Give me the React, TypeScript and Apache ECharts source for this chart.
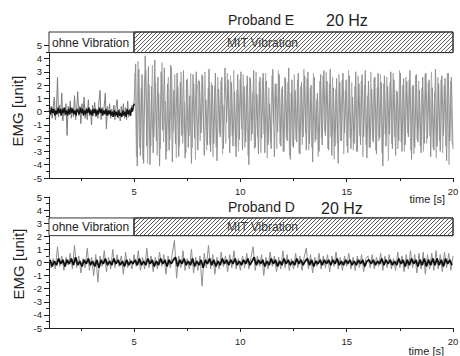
import React, { useEffect, useRef } from "react";
import * as echarts from "echarts";

// ---- axis ticks / labels ----
const xMin = 1;
const xMax = 20;
const xTickValues = [5, 10, 15, 20];
const xMinorTickValues = [2.5, 7.5, 12.5, 17.5];
const yTickValues = [-5, -4, -3, -2, -1, 0, 1, 2, 3, 4, 5];
const yMinorTickValues = [-4.5, -3.5, -2.5, -1.5, -0.5, 0.5, 1.5, 2.5, 3.5, 4.5];

// ---- condition boxes: [tStart, tEnd] and labels ----
const boxLabels = ["ohne Vibration", "MIT Vibration"];
const boxSpans = [[1, 5], [5, 20]];
const boxHatched = [false, true];
const topBoxRange = [4.45, 6];
const bottomBoxRange = [2.05, 3.4];

// ---- panel titles ----
const topTitle = ["Proband E", "20 Hz"];
const bottomTitle = ["Proband D", "20 Hz"];

// ---- Proband E: before vibration, t = 1 .. 5 s, step 0.05 s ----
const topPreStart = 1;
const topPreStep = 0.05;
const topPreValues = [
  0.2, -0.3, 0.4, -0.5, 0.3, 1.1, -0.6, 0.2, 2.6, -0.4,
  0.5, -0.2, 1.4, -0.7, 0.3, -0.3, 0.6, -1.8, 0.4, -0.2,
  0.8, -0.5, 0.3, -0.4, 1.2, -0.6, 0.2, 1.5, -0.3, 0.4,
  -0.9, 0.6, -0.2, 1.1, -0.5, 0.3, -0.6, 0.9, -0.3, 0.2,
  -1.0, 0.5, -0.3, 0.7, -0.4, 0.2, -0.5, 0.8, 1.6, -0.6,
  0.3, -0.2, 0.5, 1.4, -1.3, 0.4, -0.3, 0.6, -0.5, 0.2,
  -0.4, 0.5, -0.6, 0.3, 0.9, -0.5, 0.2, -0.7, 0.4, -0.3,
  0.6, -0.5, 0.3, -0.6, 0.8, -0.4, 0.2, -0.3, 0.5, 0.3,
  0.7,
];
// dense dark core of the same period, t = 1.025 .. 5.025 s
const topPreCoreStart = 1.025;
const topPreCoreValues = [
  0.1, -0.2, 0.3, -0.1, 0.2, -0.3, 0.1, -0.2, 0.3, -0.1,
  0.2, -0.3, 0.2, -0.1, 0.3, -0.2, 0.1, -0.3, 0.2, -0.2,
  0.3, -0.1, 0.2, -0.2, 0.1, -0.3, 0.2, 0.0, -0.2, 0.3,
  -0.1, 0.2, -0.3, 0.1, -0.2, 0.2, -0.1, 0.3, -0.2, 0.1,
  -0.3, 0.2, -0.1, 0.2, -0.3, 0.1, -0.2, 0.3, -0.1, 0.2,
  -0.3, 0.1, -0.2, 0.2, -0.3, 0.1, -0.2, 0.1, -0.3, 0.0,
  -0.4, 0.1, -0.3, 0.0, -0.4, 0.1, -0.3, -0.1, -0.4, 0.1,
  -0.3, 0.0, -0.4, 0.2, -0.2, 0.1, -0.3, 0.3, 0.0, 0.4,
  0.6,
];

// ---- Proband E: with vibration, t = 5 .. 20 s, step 0.075 s ----
const topVibStart = 5;
const topVibStep = 0.075;
const topVibValues = [
  0.7, 3.6, -4.1, 3.2, -3.3, 2.8, -3.9, 4.2, -2.6, 3.4,
  -4.0, 1.9, -3.1, 3.9, -2.2, 2.6, -4.1, 3.0, -1.4, 3.3,
  -3.6, 2.1, -2.9, 3.5, -3.8, 1.6, -2.4, 2.9, -3.4, 2.2,
  -1.8, 3.1, -3.5, 2.4, -2.7, 1.2, -3.9, 2.8, -2.0, 3.0,
  -2.9, 2.3, -1.6, 2.7, -3.3, 0.9, -2.5, 3.2, -3.0, 2.0,
  -2.4, 2.9, -3.7, 1.7, -1.9, 2.6, -2.8, 3.3, -0.8, 2.4,
  -3.1, 2.2, -2.6, 1.5, -3.4, 2.8, -2.1, 3.0, -2.9, 1.9,
  -2.3, 2.7, -4.0, 2.5, -1.7, 3.1, -2.7, 1.3, -3.2, 2.6,
  -2.0, 2.9, -3.1, 2.3, -2.5, 0.6, -2.8, 3.2, -3.4, 2.1,
  -1.5, 2.8, -2.6, 1.9, -3.0, 2.5, -2.2, 3.3, -3.6, 2.4,
  -2.7, 1.6, -2.3, 2.9, -3.2, 2.2, -1.9, 2.7, -2.9, 3.0,
  -2.4, 2.0, -3.8, 2.6, -2.1, 1.4, -3.0, 2.8, -2.5, 3.1,
  -1.8, 2.3, -2.9, 3.2, -3.3, 1.8, -2.6, 2.5, -3.9, 2.2,
  -2.2, 2.9, -1.6, 2.4, -3.1, 2.7, -2.8, 1.1, -2.4, 3.0,
  -3.0, 2.1, -2.5, 2.8, -1.9, 3.1, -3.5, 2.3, -2.7, 1.7,
  -2.3, 2.6, -3.2, 2.9, -2.0, 2.2, -4.1, 2.7, -2.6, 1.9,
  -1.7, 3.0, -2.8, 2.4, -3.3, 1.5, -2.2, 2.9, -3.0, 2.5,
  -2.5, 2.3, -1.9, 3.1, -3.6, 2.0, -2.7, 2.8, -2.3, 1.6,
  -3.1, 2.6, -2.4, 2.9, -2.0, 2.4, -3.4, 1.8, -2.9, 3.2,
  -2.6, 2.1, -3.0, 2.7, -1.8, 2.5, -3.7, 2.9, -2.2, 2.6,
  -2.8,
];
// interleaved second trace, t = 5.0375 .. 19.9625 s
const topVibBStart = 5.0375;
const topVibBValues = [
  2.9, -3.4, 3.8, -2.7, 1.8, -3.6, 2.4, 3.1, -3.9, 2.0,
  -2.6, 3.5, -1.9, 2.2, -3.3, 1.4, -2.8, 3.7, -2.3, 0.8,
  -3.0, 2.6, -2.1, 3.3, -1.5, 2.8, -3.5, 1.9, -2.6, 3.0,
  -2.4, 0.7, -3.1, 2.5, -1.8, 2.9, -2.7, 2.1, -3.6, 1.6,
  2.4, -2.2, 2.8, -1.4, 3.0, -2.9, 1.8, -2.5, 2.2, -3.4,
  1.9, -2.7, 2.6, -1.6, 2.3, -3.2, 0.5, -2.4, 2.9, -2.0,
  2.7, -1.8, 3.1, -2.6, 1.6, -3.0, 2.4, -1.3, 2.8, -2.7,
  2.0, -3.3, 2.6, -2.2, 1.5, -2.8, 3.0, -1.9, 2.3, -3.1,
  2.5, -1.7, 2.9, -3.5, 1.8, -2.3, 2.7, -0.9, 2.1, -2.8,
  3.1, -2.4, 1.7, -3.0, 2.6, -2.0, 2.2, -3.3, 1.4, -2.6,
  2.8, -2.1, 2.4, -3.1, 1.9, -2.5, 3.2, -1.6, 2.5, -2.9,
  1.8, -2.7, 2.9, -2.3, 0.9, -3.4, 2.3, -2.0, 2.7, -1.5,
  3.0, -2.8, 2.1, -1.9, 2.6, -3.6, 1.7, -2.4, 2.8, -2.2,
  2.4, -3.2, 1.6, -2.6, 3.1, -2.0, 2.2, -2.9, 1.9, -3.0,
  2.7, -1.8, 2.3, -3.4, 2.0, -2.5, 1.2, -2.7, 3.0, -2.1,
  2.5, -2.9, 1.8, -2.2, 2.8, -3.1, 2.1, -1.7, 2.6, -3.7,
  2.2, -2.4, 2.9, -1.9, 1.6, -2.8, 3.1, -2.3, 2.0, -3.0,
  2.6, -1.6, 2.4, -2.9, 1.9, -3.2, 2.7, -2.1, 2.3, -2.6,
  1.8, -3.0, 2.8, -2.4, 2.2, -1.8, 3.0, -2.7, 1.5, -3.5,
  2.6, -2.2, 2.4, -3.1, 2.0, -2.6, 2.9, -4.0, 2.3, -2.5,
];

// ---- Proband D: t = 1 .. 20 s, step 0.1 s ----
const bottomStart = 1;
const bottomStep = 0.1;
const bottomSpikeValues = [
  0.6, -0.4, 0.3, -0.5, 1.2, -0.3, 0.5, -0.6, 0.4, -0.2,
  0.7, -0.5, 1.3, -0.4, 0.5, -0.8, 0.3, -0.4, 1.1, -0.6,
  0.4, -1.0, 0.6, -1.5, 0.5, -0.3, 0.9, -0.7, 0.4, -0.5,
  1.0, -0.4, 0.6, -0.3, 0.5, -0.9, 0.8, -0.4, 0.3, -0.5,
  0.6, -0.3, 0.9, -0.6, 0.4, -0.5, 1.1, -0.4, 0.5, -0.7,
  0.4, -0.5, 0.8, -0.3, 0.6, -0.9, 0.5, -0.4, 0.7, 1.7,
  -1.2, 0.5, -0.4, 0.9, -0.6, 0.3, -0.5, 1.0, -0.8, 0.4,
  -0.6, 0.5, -1.8, 0.7, -0.4, 1.3, -0.5, 0.6, -0.9, 0.4,
  -0.5, 0.8, -0.3, 0.5, -0.7, 0.6, -0.4, 0.9, -0.5, 0.3,
  -0.6, 0.5, -0.4, 0.7, -0.5, 0.4, 1.2, -0.6, 0.5, -0.3,
  0.6, -1.0, 0.4, -0.5, 0.8, -0.3, 0.5, -0.7, 0.4, -0.5,
  0.9, -0.4, 0.6, -0.6, 0.3, -0.5, 0.7, -0.4, 0.5, -0.6,
  0.4, 1.1, -0.5, 0.6, -0.8, 0.4, -0.3, 0.7, -0.5, 0.5,
  -0.4, 0.6, -0.7, 0.5, -0.3, 0.8, -0.5, 0.4, -0.6, 0.5,
  -0.3, 0.7, -0.5, 0.4, -0.6, 0.5, -0.4, 0.6, -0.7, 0.3,
  0.5, -0.4, 0.6, -0.5, 0.4, -0.3, 0.7, -0.6, 0.5, -0.4,
  0.6, -0.5, 0.3, -0.6, 0.8, -0.4, 0.5, -0.7, 0.6, -0.5,
  0.9, -0.4, 0.6, -0.8, 0.7, -0.5, 0.8, -0.9, 0.6, -0.5,
  0.7, -0.6, 0.9, -0.5, 0.6, -0.7, 0.8, -0.4, 0.7, -0.6,
  0.5,
];
// dense dark core, t = 1.05 .. 20.05 s
const bottomCoreStart = 1.05;
const bottomCoreValues = [
  0.2, -0.3, 0.1, -0.2, 0.3, -0.1, 0.2, -0.3, 0.2, -0.1,
  0.3, -0.2, 0.4, -0.2, 0.1, -0.3, 0.2, -0.1, 0.3, -0.2,
  0.1, -0.3, 0.2, -0.4, 0.2, -0.1, 0.3, -0.2, 0.1, -0.2,
  0.3, -0.1, 0.2, -0.2, 0.1, -0.3, 0.2, -0.2, 0.1, -0.1,
  0.2, -0.2, 0.3, -0.2, 0.1, -0.2, 0.3, -0.1, 0.2, -0.3,
  0.1, -0.2, 0.3, -0.1, 0.2, -0.3, 0.2, -0.1, 0.2, 0.4,
  -0.3, 0.2, -0.1, 0.3, -0.2, 0.1, -0.2, 0.3, -0.3, 0.1,
  -0.2, 0.2, -0.4, 0.2, -0.1, 0.3, -0.2, 0.2, -0.3, 0.1,
  -0.2, 0.3, -0.1, 0.2, -0.2, 0.2, -0.1, 0.3, -0.2, 0.1,
  -0.2, 0.2, -0.1, 0.3, -0.2, 0.1, 0.4, -0.2, 0.2, -0.1,
  0.2, -0.3, 0.1, -0.2, 0.3, -0.1, 0.2, -0.3, 0.1, -0.2,
  0.3, -0.1, 0.2, -0.2, 0.1, -0.2, 0.3, -0.1, 0.2, -0.2,
  0.1, 0.3, -0.2, 0.2, -0.3, 0.1, -0.1, 0.2, -0.2, 0.2,
  -0.1, 0.2, -0.2, 0.2, -0.1, 0.3, -0.2, 0.1, -0.2, 0.2,
  -0.1, 0.2, -0.2, 0.1, -0.2, 0.2, -0.1, 0.2, -0.3, 0.1,
  0.2, -0.1, 0.2, -0.2, 0.1, -0.1, 0.3, -0.2, 0.2, -0.1,
  0.2, -0.2, 0.1, -0.2, 0.3, -0.1, 0.2, -0.3, 0.2, -0.2,
  0.3, -0.1, 0.2, -0.3, 0.2, -0.2, 0.3, -0.3, 0.2, -0.2,
  0.3, -0.2, 0.3, -0.2, 0.2, -0.3, 0.3, -0.1, 0.2, -0.2,
];

const FONT = '"Liberation Sans", Arial, sans-serif';
const INK = "#1e1e1e";

function toPoints(start: number, step: number, values: number[]) {
  return values.map((v, i) => [+(start + i * step).toFixed(4), v]);
}

function boxRenderer(params: any, api: any) {
  const i = params.dataIndex;
  const p0 = api.coord([api.value(0), api.value(3)]);
  const p1 = api.coord([api.value(1), api.value(2)]);
  const rx = p0[0];
  const ry = p0[1];
  const w = p1[0] - p0[0];
  const h = p1[1] - p0[1];
  const children: any[] = [
    {
      type: "rect",
      shape: { x: rx, y: ry, width: w, height: h },
      style: { fill: "#fff", stroke: "#333", lineWidth: 1 },
    },
  ];
  if (boxHatched[i]) {
    for (let s = 3; s < w + h; s += 4) {
      let xa = rx + s - h;
      let ya = ry + h;
      let xb = rx + s;
      let yb = ry;
      if (xa < rx) {
        ya = ry + h - (rx - xa);
        xa = rx;
      }
      if (xb > rx + w) {
        yb = ry + (xb - (rx + w));
        xb = rx + w;
      }
      children.push({
        type: "line",
        shape: { x1: xa, y1: ya, x2: xb, y2: yb },
        style: { stroke: "#4a4a4a", lineWidth: 0.9 },
      });
    }
    children.push({
      type: "rect",
      shape: { x: rx, y: ry, width: w, height: h },
      style: { fill: "none", stroke: "#333", lineWidth: 1 },
    });
  }
  children.push({
    type: "text",
    x: boxHatched[i] ? rx + 93 : rx + 3,
    y: ry + h / 2 + 0.5,
    style: {
      text: boxLabels[i],
      fill: boxHatched[i] ? "#3a3a3a" : INK,
      font: `12px ${FONT}`,
      align: "left",
      verticalAlign: "middle",
      textAlign: "left",
      textVerticalAlign: "middle",
    },
  });
  return { type: "group", children };
}

function makeAxes(gridIndex: number, yMax: number) {
  const xMain = {
    type: "value",
    gridIndex,
    position: "bottom",
    min: xMin,
    max: xMax,
    axisLine: { show: true, onZero: false, lineStyle: { color: INK, width: 1 } },
    axisTick: { show: true, customValues: xTickValues, length: 4, lineStyle: { color: INK } },
    axisLabel: { show: true, customValues: xTickValues, margin: 8, color: INK, fontSize: 9.5, fontFamily: FONT },
    splitLine: { show: false },
  };
  const xMinor = {
    type: "value",
    gridIndex,
    position: "bottom",
    min: xMin,
    max: xMax,
    axisLine: { show: false, onZero: false },
    axisTick: { show: true, customValues: xMinorTickValues, length: 3, lineStyle: { color: INK } },
    axisLabel: { show: false },
    splitLine: { show: false },
  };
  const yMain = {
    type: "value",
    gridIndex,
    position: "left",
    min: -5,
    max: yMax,
    axisLine: { show: true, onZero: false, lineStyle: { color: INK, width: 1 } },
    axisTick: { show: true, customValues: yTickValues, length: 5, lineStyle: { color: INK } },
    axisLabel: { show: true, customValues: yTickValues, margin: 7, color: INK, fontSize: 9.5, fontFamily: FONT },
    splitLine: { show: false },
  };
  const yMinor = {
    type: "value",
    gridIndex,
    position: "left",
    min: -5,
    max: yMax,
    axisLine: { show: false, onZero: false },
    axisTick: { show: true, customValues: yMinorTickValues, length: 3, lineStyle: { color: INK } },
    axisLabel: { show: false },
    splitLine: { show: false },
  };
  return { x: [xMain, xMinor], y: [yMain, yMinor] };
}

function lineSeries(xi: number, yi: number, data: number[][], color: string, width: number) {
  return {
    type: "line",
    xAxisIndex: xi,
    yAxisIndex: yi,
    data,
    showSymbol: false,
    symbol: "none",
    lineStyle: { color, width },
    emphasis: { disabled: true },
    silent: true,
    z: 2,
  };
}

function boxSeries(xi: number, yi: number, range: number[]) {
  return {
    type: "custom",
    xAxisIndex: xi,
    yAxisIndex: yi,
    clip: false,
    silent: true,
    z: 5,
    renderItem: boxRenderer,
    data: boxSpans.map((s) => [s[0], s[1], range[0], range[1]]),
  };
}

export default function App() {
  const ref = useRef<HTMLDivElement>(null);

  useEffect(() => {
    document.body.style.margin = "0";
    if (!ref.current) return;
    const chart = echarts.init(ref.current, null, { renderer: "svg" });

    const top = makeAxes(0, 6);
    const bottom = makeAxes(1, 5);

    const option: any = {
      animation: false,
      backgroundColor: "#ffffff",
      grid: [
        { left: 49, right: 7, top: 32, height: 146, outerBoundsMode: "none", containLabel: false },
        { left: 49, right: 7, top: 197, height: 131, outerBoundsMode: "none", containLabel: false },
      ],
      xAxis: [...top.x, ...bottom.x],
      yAxis: [...top.y, ...bottom.y],
      series: [
        lineSeries(0, 0, toPoints(topPreStart, topPreStep, topPreValues), "#7d7d7d", 1),
        lineSeries(0, 0, toPoints(topPreCoreStart, topPreStep, topPreCoreValues), "#111111", 1.4),
        lineSeries(0, 0, toPoints(topVibBStart, topVibStep, topVibBValues), "#a9a9a9", 0.9),
        lineSeries(0, 0, toPoints(topVibStart, topVibStep, topVibValues), "#8a8a8a", 0.9),
        boxSeries(0, 0, topBoxRange),
        lineSeries(2, 2, toPoints(bottomStart, bottomStep, bottomSpikeValues), "#8f8f8f", 1),
        lineSeries(2, 2, toPoints(bottomCoreStart, bottomStep, bottomCoreValues), "#111111", 1.8),
        boxSeries(2, 2, bottomBoxRange),
      ],
      graphic: [
        {
          type: "text",
          x: 17,
          y: 111,
          rotation: Math.PI / 2,
          style: { text: "EMG [unit]", font: `15px ${FONT}`, fill: INK, align: "center", verticalAlign: "middle", textAlign: "center", textVerticalAlign: "middle" },
        },
        {
          type: "text",
          x: 18,
          y: 264,
          rotation: Math.PI / 2,
          style: { text: "EMG [unit]", font: `15px ${FONT}`, fill: INK, align: "center", verticalAlign: "middle", textAlign: "center", textVerticalAlign: "middle" },
        },
        {
          type: "text",
          x: 228,
          y: 20,
          style: { text: topTitle[0], font: `14px ${FONT}`, fill: INK, align: "left", verticalAlign: "middle", textAlign: "left", textVerticalAlign: "middle" },
        },
        {
          type: "text",
          x: 326,
          y: 20,
          style: { text: topTitle[1], font: `16px ${FONT}`, fill: INK, align: "left", verticalAlign: "middle", textAlign: "left", textVerticalAlign: "middle" },
        },
        {
          type: "text",
          x: 228,
          y: 207,
          style: { text: bottomTitle[0], font: `14px ${FONT}`, fill: INK, align: "left", verticalAlign: "middle", textAlign: "left", textVerticalAlign: "middle" },
        },
        {
          type: "text",
          x: 321,
          y: 208,
          style: { text: bottomTitle[1], font: `16px ${FONT}`, fill: INK, align: "left", verticalAlign: "middle", textAlign: "left", textVerticalAlign: "middle" },
        },
        {
          type: "text",
          x: 445,
          y: 199,
          style: { text: "time [s]", font: `11px ${FONT}`, fill: INK, align: "right", verticalAlign: "middle", textAlign: "right", textVerticalAlign: "middle" },
        },
        {
          type: "text",
          x: 444,
          y: 351,
          style: { text: "time [s]", font: `11px ${FONT}`, fill: INK, align: "right", verticalAlign: "middle", textAlign: "right", textVerticalAlign: "middle" },
        },
      ],
    };

    chart.setOption(option);
    return () => {
      chart.dispose();
    };
  }, []);

  return (
    <div
      ref={ref}
      style={{ width: 460, height: 356, position: "fixed", left: 0, top: 0, background: "#fff" }}
    />
  );
}
